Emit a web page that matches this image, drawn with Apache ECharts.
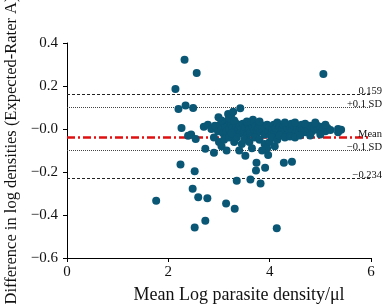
<!DOCTYPE html>
<html><head><meta charset="utf-8">
<script src="https://cdn.jsdelivr.net/npm/echarts@6/dist/echarts.min.js"></script>
<style>html,body{margin:0;padding:0;background:#fff}#c{width:384px;height:305px}</style>
</head><body><div id="c"></div>
<script>
// Mean log parasite density (x) and difference (y)
const meanLog = [
2.32,2.56,5.06,2.14,2.20,2.34,2.49,3.42,2.26,2.39,2.45,2.54,2.73,2.90,2.24,2.52,2.48,2.59,2.77,1.76,3.14,3.31,2.73,2.52,4.14,3.35,3.62,3.82,3.73,3.74,3.91,4.28,4.44,3.97,3.52,2.99,3.24,3.67,5.41,5.35,5.35,
2.70,2.78,2.85,2.92,2.98,3.02,3.05,3.08,3.10,3.12,3.15,3.18,3.20,3.22,3.25,3.27,3.30,3.32,3.35,3.37,3.40,3.42,3.45,3.47,3.50,3.52,3.55,3.57,3.60,3.62,3.65,3.68,3.70,3.72,3.75,3.78,3.80,3.82,3.85,3.88,3.90,3.92,3.95,3.98,4.00,4.02,4.05,4.08,4.10,4.12,4.15,4.18,4.20,4.22,4.25,4.28,4.30,4.33,4.35,4.38,4.40,4.43,4.45,4.48,4.50,4.53,4.55,4.58,4.60,4.63,4.65,4.68,4.70,4.73,4.76,4.80,4.84,4.88,4.92,4.96,5.00,5.05,5.10,5.14,5.20,
2.90,3.00,3.05,3.10,3.20,3.30,3.35,3.45,3.50,3.60,3.65,3.70,3.80,3.90,3.95,4.00,4.05,4.10,4.15,4.20,4.30,4.40,4.50,4.60,4.80,5.00,3.15,3.25,3.85,3.40,
3.05,3.20,3.30,3.55,3.80,4.30,4.50,4.70,4.90,5.10,3.18,3.28];
const diffLog = [
0.322,0.261,0.256,0.186,0.093,0.109,0.098,0.096,0.005,-0.031,-0.025,-0.047,-0.092,-0.110,-0.165,-0.197,-0.278,-0.317,-0.322,-0.334,-0.347,-0.371,-0.427,-0.458,-0.462,-0.241,-0.235,-0.253,-0.193,-0.157,-0.180,-0.157,-0.152,-0.121,-0.124,0.055,0.065,0.043,-0.003,0.000,-0.015,
0.010,0.020,0.000,0.015,-0.010,0.020,0.000,-0.020,0.030,0.010,-0.010,0.040,0.000,-0.030,0.020,0.005,-0.015,0.030,0.010,-0.005,0.020,-0.020,0.005,0.025,-0.010,0.010,-0.030,0.020,0.000,-0.015,0.015,0.030,-0.005,0.010,-0.020,0.005,0.020,-0.010,0.000,0.015,-0.025,0.005,0.020,-0.010,0.010,-0.030,0.000,0.020,-0.015,0.005,0.030,-0.005,0.010,-0.020,0.000,0.015,-0.010,0.020,0.005,-0.015,0.010,0.025,-0.005,0.005,-0.020,0.015,0.000,-0.010,0.010,0.020,-0.005,0.005,-0.015,0.010,0.000,0.015,-0.010,0.005,0.020,-0.005,0.010,0.000,-0.010,0.005,-0.005,
-0.040,-0.060,-0.080,-0.050,-0.040,-0.060,-0.040,-0.070,-0.050,-0.060,-0.090,-0.040,-0.050,-0.070,-0.090,-0.060,-0.040,-0.080,-0.050,-0.030,-0.040,-0.035,-0.040,-0.030,-0.030,-0.025,-0.100,-0.020,-0.100,-0.100,
0.040,0.050,0.040,0.035,0.035,0.030,0.030,0.025,0.030,0.020,0.070,0.080];
const upperLimit = 0.159, upperSD = 0.1, meanDiff = -0.0375, lowerSD = -0.1, lowerLimit = -0.234;
const xTicks = [0, 2, 4, 6];
const yTicks = [-0.6, -0.4, -0.2, 0, 0.2, 0.4];

const pts = meanLog.map((x, i) => [x, diffLog[i]]);
const font = 'Liberation Serif';
const lbl = (t) => ({show: true, formatter: t, position: 'insideEndTop', distance: [-11, -2], color: '#111', fontFamily: font, fontSize: 10.5});
const chart = echarts.init(document.getElementById('c'));
chart.setOption({
  animation: false,
  grid: {left: 67, right: 13, top: 43, bottom: 47, containLabel: false, outerBoundsMode: 'none'},
  xAxis: {
    type: 'value', min: 0, max: 6, interval: 2,
    name: 'Mean Log parasite density/\u03bcl', nameLocation: 'middle', nameGap: 28,
    nameTextStyle: {fontFamily: font, fontSize: 18, color: '#111', padding: [0, 0, 0, 40]},
    axisLine: {onZero: false, lineStyle: {color: '#000', width: 1}},
    axisTick: {show: true, inside: false, length: 4, lineStyle: {color: '#000'}},
    axisLabel: {fontFamily: font, fontSize: 15, color: '#111', margin: 7},
    splitLine: {show: false}
  },
  yAxis: {
    type: 'value', min: -0.6, max: 0.4, interval: 0.2,
    name: 'Difference in log densities (Expected-Rater A)', nameLocation: 'middle', nameGap: 46,
    nameTextStyle: {fontFamily: font, fontSize: 16.5, color: '#111'},
    axisLine: {show: true, onZero: false, lineStyle: {color: '#000', width: 1}},
    axisTick: {show: true, inside: false, length: 4, lineStyle: {color: '#000'}},
    axisLabel: {fontFamily: font, fontSize: 15, color: '#111', margin: 9,
      formatter: v => { const r = Math.round(v * 10) / 10; return r <= 0 ? '\u2212' + Math.abs(r).toFixed(1) : r.toFixed(1); }},
    splitLine: {show: false}
  },
  series: [{
    type: 'scatter', data: pts, symbolSize: 8,
    itemStyle: {color: '#0a5675', opacity: 1},
    z: 3,
    markLine: {
      silent: true, symbol: ['none', 'none'], z: 2,
      data: [
        {yAxis: upperLimit, lineStyle: {color: '#222', type: [3, 2], width: 1}, label: lbl('0.159')},
        {yAxis: upperSD, lineStyle: {color: '#444', type: [1, 1], width: 1}, label: lbl('+0.1 SD')},
        {yAxis: meanDiff, lineStyle: {color: '#e01010', type: [8, 3, 2, 3], width: 2.5}, label: lbl('Mean')},
        {yAxis: lowerSD, lineStyle: {color: '#444', type: [1, 1], width: 1}, label: lbl('\u22120.1 SD')},
        {yAxis: lowerLimit, lineStyle: {color: '#222', type: [3, 2], width: 1}, label: lbl('\u22120.234')}
      ]
    }
  }]
});
</script></body></html>
